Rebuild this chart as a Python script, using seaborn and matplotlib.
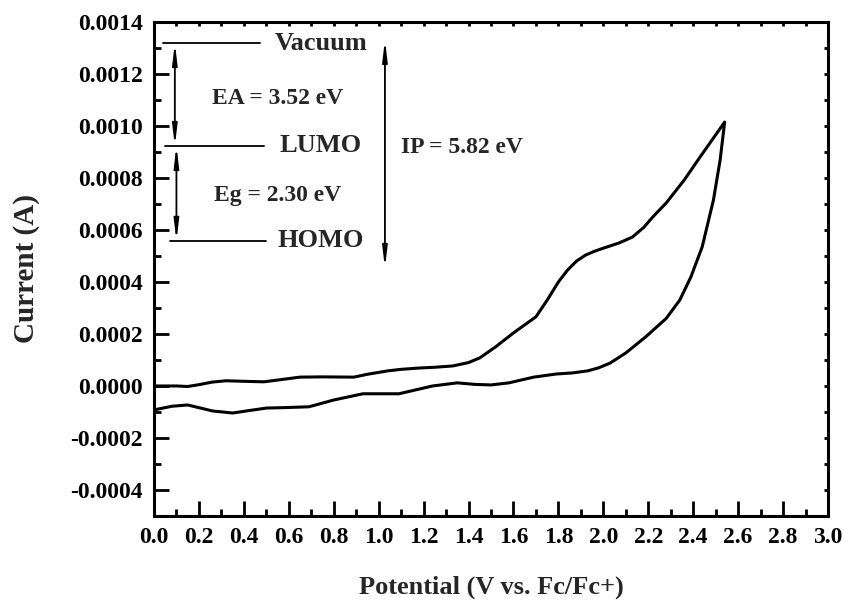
import matplotlib
matplotlib.use("Agg")
import matplotlib.pyplot as plt
import matplotlib.ticker as mticker
import seaborn as sns
import pandas as pd

# Cyclic voltammogram: forward (anodic) scan
potential_fwd = [0.00, 0.10, 0.15, 0.20, 0.26, 0.32, 0.40, 0.49, 0.57, 0.65, 0.75, 0.89,
                 0.95, 1.04, 1.10, 1.18, 1.25, 1.33, 1.40, 1.45, 1.52, 1.60, 1.70, 1.75,
                 1.80, 1.84, 1.88, 1.92, 1.96, 2.00, 2.07, 2.13, 2.18, 2.22, 2.28, 2.36,
                 2.43, 2.54]
current_fwd = [0.0, 0.0, -0.000002, 0.000005, 0.000015, 0.00002, 0.000018, 0.000016,
               0.000025, 0.000034, 0.000035, 0.000034, 0.000045, 0.000058, 0.000064,
               0.000069, 0.000072, 0.000077, 0.00009, 0.000108, 0.00015, 0.000204,
               0.000266, 0.00033, 0.0004, 0.000445, 0.00048, 0.000503, 0.000518,
               0.00053, 0.00055, 0.000573, 0.00061, 0.00065, 0.000704, 0.000792,
               0.00088, 0.001015]

# Reverse scan
potential_rev = [2.54, 2.52, 2.49, 2.44, 2.39, 2.34, 2.28, 2.19, 2.10, 2.03, 1.98, 1.93,
                 1.86, 1.79, 1.69, 1.58, 1.50, 1.43, 1.35, 1.24, 1.18, 1.09, 1.04, 0.93,
                 0.80, 0.69, 0.59, 0.50, 0.42, 0.35, 0.26, 0.15, 0.08, 0.00]
current_rev = [0.001015, 0.00087, 0.000715, 0.000535, 0.00042, 0.00033, 0.00026, 0.00019,
               0.000127, 0.000088, 0.00007, 0.000058, 0.00005, 0.000046, 0.000034,
               0.000012, 0.000004, 0.000006, 0.000012, 0.0, -0.000012, -0.00003,
               -0.00003, -0.00003, -0.000054, -0.00008, -0.000083, -0.000085,
               -0.000095, -0.000104, -0.000096, -0.000073, -0.000078, -0.000092]

# Energy level diagram (drawn in data units)
level_names = ["Vacuum", "LUMO", "HOMO"]
level_y = [0.001319, 0.000923, 0.000558]
gap_labels = ["EA = 3.52 eV", "Eg = 2.30 eV", "IP = 5.82 eV"]

sns.set_theme(style="white")
plt.rcParams["font.family"] = ["Liberation Serif", "DejaVu Serif"]
plt.rcParams["font.weight"] = "bold"

fig = plt.figure(figsize=(8.45, 6.02), dpi=100)
ax = fig.add_axes([0.1822, 0.1429, 0.7977, 0.8206])

cv = pd.DataFrame({
    "E": potential_fwd + potential_rev,
    "I": current_fwd + current_rev,
})
sns.lineplot(data=cv, x="E", y="I", sort=False, estimator=None, color="black",
             linewidth=2.2, ax=ax)

ax.set_xlim(0.0, 3.0)
ax.set_ylim(-0.0005, 0.0014)

ax.xaxis.set_major_locator(mticker.MultipleLocator(0.2))
ax.xaxis.set_minor_locator(mticker.MultipleLocator(0.1))
ax.yaxis.set_major_locator(mticker.MultipleLocator(0.0002))
ax.yaxis.set_minor_locator(mticker.MultipleLocator(0.0001))
ax.xaxis.set_major_formatter(mticker.FormatStrFormatter("%.1f"))
ax.yaxis.set_major_formatter(mticker.FormatStrFormatter("%.4f"))

for s in ax.spines.values():
    s.set_color("black")
    s.set_linewidth(2.2)

ax.tick_params(axis="both", which="major", direction="in", length=11, width=2,
               color="black", labelsize=17, labelcolor="black", pad=8)
ax.tick_params(axis="both", which="minor", direction="in", length=5, width=2,
               color="black")
ax.tick_params(axis="y", which="both", right=True, left=True)
ax.tick_params(axis="x", which="both", top=True, bottom=True)
# short ticks on the mirrored (top and right) spines
for axis in (ax.xaxis, ax.yaxis):
    for t in axis.get_ticklines(minor=False)[1::2] + axis.get_ticklines(minor=True)[1::2]:
        t.set_markersize(3)
for lab in ax.get_xticklabels() + ax.get_yticklabels():
    lab.set_fontweight("bold")

ax.set_xlabel("Potential (V vs. Fc/Fc+)", fontsize=19, fontweight="bold", labelpad=20)
ax.set_ylabel("Current (A)", fontsize=21, fontweight="bold", labelpad=22)

# Energy levels
level_x = [(0.04, 0.47), (0.05, 0.49), (0.07, 0.50)]
label_x = [0.538, 0.56, 0.552]
for name, y, (x0, x1), lx in zip(level_names, level_y, level_x, label_x):
    ax.plot([x0, x1], [y, y], color="black", linewidth=1.3)
    ax.text(lx, y, name, fontsize=19, fontweight="bold", va="center", ha="left")

arrow = dict(arrowstyle="<|-|>,head_length=1.0,head_width=0.12", color="black",
             linewidth=1.3, shrinkA=0, shrinkB=0)
ax.annotate("", xy=(0.093, level_y[1]), xytext=(0.093, level_y[0]), arrowprops=arrow)
ax.annotate("", xy=(0.10, level_y[2]), xytext=(0.10, level_y[1]), arrowprops=arrow)
ax.annotate("", xy=(1.028, 0.000454), xytext=(1.028, 0.001331), arrowprops=arrow)

ax.text(0.55, 0.001104, gap_labels[0], fontsize=17, fontweight="bold",
        ha="center", va="center")
ax.text(0.55, 0.000731, gap_labels[1], fontsize=17, fontweight="bold",
        ha="center", va="center")
ax.text(1.37, 0.000919, gap_labels[2], fontsize=17, fontweight="bold",
        ha="center", va="center")

fig.savefig("out.png", dpi=100, facecolor="white")
